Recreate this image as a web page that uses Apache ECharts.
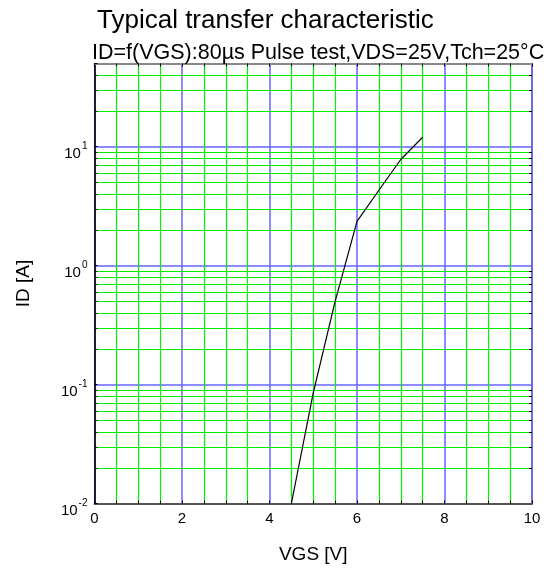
<!DOCTYPE html>
<html>
<head>
<meta charset="utf-8">
<script src="https://cdn.jsdelivr.net/npm/echarts@6/dist/echarts.min.js"></script>
<style>
html,body{margin:0;padding:0;background:#fff;}
#chart{width:551px;height:570px;}
</style>
</head>
<body>
<div id="chart"></div>
<script>
// ---- data ----
const titleText = 'Typical transfer characteristic';
const subtitleText = 'ID=f(VGS):80\u00b5s Pulse test,VDS=25V,Tch=25\u00b0C';
const xName = 'VGS [V]';
const yName = 'ID [A]';
const vgs = [4.5, 5.0, 5.5, 6.0, 6.5, 7.0, 7.5];
const idA = [0.01, 0.085, 0.5, 2.35, 4.3, 7.8, 12];
const xTicks = [0, 2, 4, 6, 8, 10];
const yDecades = [0.01, 0.1, 1, 10];
const yMin = 0.01, yMax = 50;
const yMinorGrid = [0.02, 0.03, 0.04, 0.05, 0.06, 0.07, 0.08, 0.09,
                    0.2, 0.3, 0.4, 0.5, 0.6, 0.7, 0.8, 0.9,
                    2, 3, 4, 5, 6, 7, 8, 9,
                    20, 30, 40];

const FONT = '"Liberation Sans", Arial, sans-serif';
const GREEN = '#00ee00';
const BLUE = '#6464ff';
const X_MIN = xTicks[0], X_MAX = xTicks[xTicks.length - 1];

const chart = echarts.init(document.getElementById('chart'), null, {renderer: 'canvas'});

function yLabel(v) {
  const isDecade = yDecades.some(d => Math.abs(d - v) / d < 1e-6);
  if (!isDecade) return '';
  return '{b|10}{s|' + Math.round(Math.log10(v)) + '}';
}

function renderHLine(params, api) {
  const y = api.value(1);
  const p1 = api.coord([X_MIN, y]);
  const p2 = api.coord([X_MAX, y]);
  const yy = Math.round(p1[1]) + 0.5;
  return {
    type: 'group',
    children: [
      {type: 'line', shape: {x1: p1[0], y1: yy, x2: p2[0], y2: yy},
       style: {stroke: GREEN, lineWidth: 1}},
      {type: 'line', shape: {x1: p1[0], y1: yy, x2: p1[0] + 3, y2: yy},
       style: {stroke: '#000', lineWidth: 1}},
      {type: 'line', shape: {x1: p2[0] - 3, y1: yy, x2: p2[0], y2: yy},
       style: {stroke: '#000', lineWidth: 1}}
    ]
  };
}

const option = {
  backgroundColor: '#fff',
  animation: false,
  title: [
    {text: titleText, left: 97, top: 8, padding: 0,
     textStyle: {fontFamily: FONT, fontSize: 26, fontWeight: 'normal', color: '#000'}},
    {text: subtitleText, left: 92, top: 42, padding: 0,
     textStyle: {fontFamily: FONT, fontSize: 21.5, fontWeight: 'normal', color: '#000'}}
  ],
  grid: {left: 94.5, right: 19, top: 63.5, bottom: 66.5, show: true,
         borderColor: '#000', borderWidth: 1, backgroundColor: 'transparent'},
  xAxis: [{
    type: 'value', min: X_MIN, max: X_MAX, interval: 2,
    name: xName, nameLocation: 'middle', nameGap: 42,
    nameTextStyle: {fontFamily: FONT, fontSize: 19, color: '#000'},
    axisLine: {show: true, onZero: false, lineStyle: {color: '#555', width: 2}},
    axisTick: {show: true, inside: true, length: 3, lineStyle: {color: '#000'}},
    minorTick: {show: true, splitNumber: 4, length: 3, lineStyle: {color: '#000'}},
    axisLabel: {fontFamily: FONT, fontSize: 15, color: '#000', margin: 8},
    splitLine: {show: true, lineStyle: {color: BLUE, width: 1.5}},
    minorSplitLine: {show: true, lineStyle: {color: GREEN, width: 1.2}}
  }, {
    type: 'value', position: 'top', min: X_MIN, max: X_MAX, interval: 2,
    axisLine: {show: true, onZero: false, lineStyle: {color: '#888', width: 2}},
    axisTick: {show: true, inside: true, length: 3, lineStyle: {color: '#000'}},
    minorTick: {show: true, splitNumber: 4, length: 3, lineStyle: {color: '#000'}},
    axisLabel: {show: false},
    splitLine: {show: false},
    minorSplitLine: {show: false}
  }],
  yAxis: {
    type: 'log', logBase: 10, min: yMin, max: yMax, interval: 1,
    name: yName, nameLocation: 'middle', nameGap: 61, nameRotate: 90,
    nameTextStyle: {fontFamily: FONT, fontSize: 19, color: '#000'},
    axisLine: {show: true, onZero: false, lineStyle: {color: '#000', width: 1.5}},
    axisTick: {show: true, inside: true, length: 3, lineStyle: {color: '#000'}},
    minorTick: {show: false},
    minorSplitLine: {show: false},
    axisLabel: {
      margin: 7,
      formatter: yLabel,
      rich: {
        b: {fontFamily: FONT, fontSize: 15, color: '#000', padding: [14, 0, 0, 0]},
        s: {fontFamily: FONT, fontSize: 10, color: '#000', padding: [0, 0, 0, 1]}
      }
    },
    splitLine: {show: true, lineStyle: {color: BLUE, width: 1.5}}
  },
  series: [
    {
      type: 'custom', silent: true, z: 1, clip: false,
      renderItem: renderHLine,
      encode: {x: 0, y: 1},
      data: yMinorGrid.map(v => [X_MIN, v])
    },
    {
      type: 'line', z: 10, showSymbol: false, symbol: 'none',
      lineStyle: {color: '#000', width: 1.2},
      data: vgs.map((x, i) => [x, idA[i]])
    }
  ]
};
chart.setOption(option);
</script>
</body>
</html>
